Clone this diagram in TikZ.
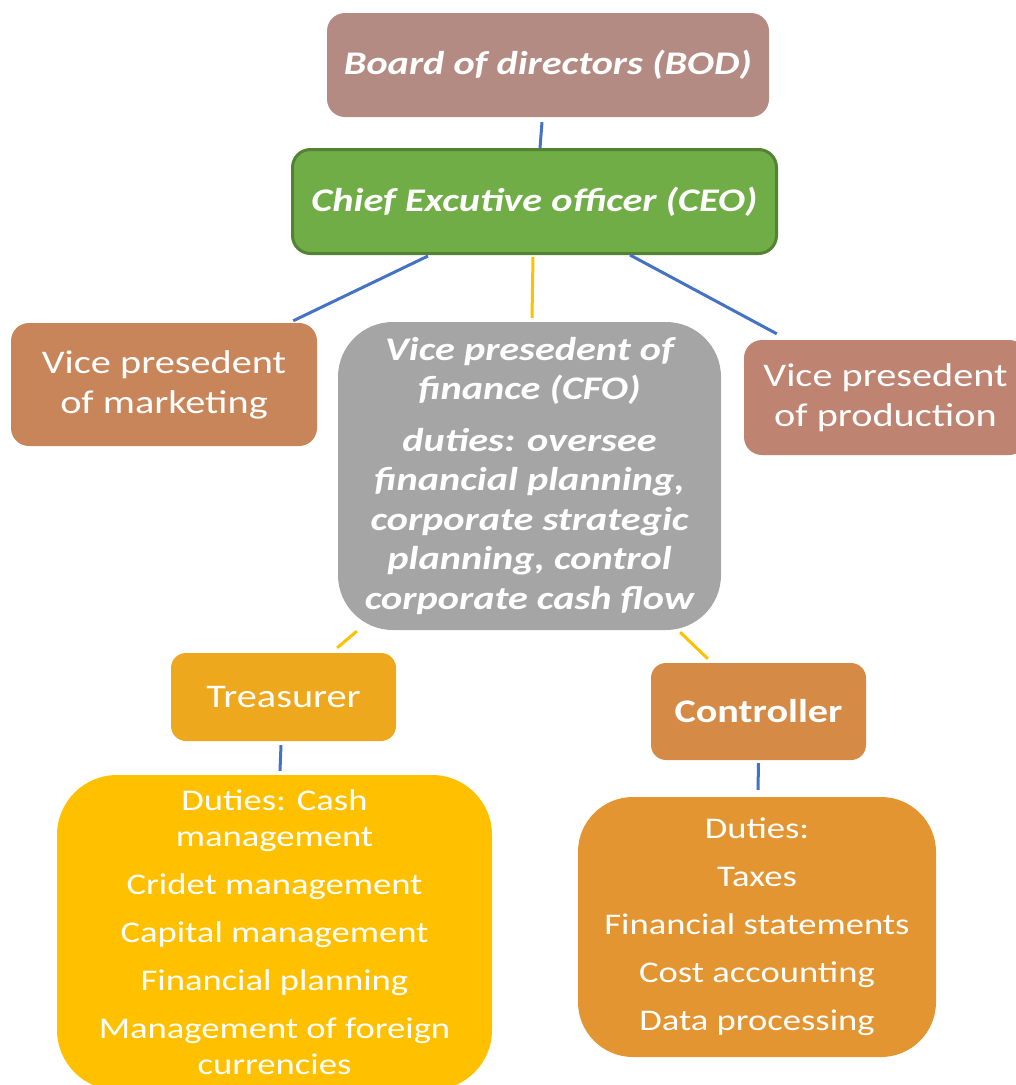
\documentclass[tikz,border=0pt]{standalone}
\usepackage{fontspec}
\setmainfont{Carlito}[FakeStretch=1.22]

\definecolor{bodcol}{HTML}{B48B82}
\definecolor{ceocol}{HTML}{70AD47}
\definecolor{ceoedge}{HTML}{548235}
\definecolor{mktcol}{HTML}{C9855A}
\definecolor{cfocol}{HTML}{A5A5A5}
\definecolor{prodcol}{HTML}{BF8371}
\definecolor{treascol}{HTML}{EDA81D}
\definecolor{ctrlcol}{HTML}{D58A45}
\definecolor{tdutycol}{HTML}{FFC000}
\definecolor{cdutycol}{HTML}{E29531}
\definecolor{linkblue}{HTML}{4472C4}
\definecolor{linkgold}{HTML}{FFC000}

\begin{document}
\begin{tikzpicture}[x=1pt,y=-1pt,
  box/.style={fill=#1,text=white,rounded corners=18pt,inner sep=0pt,align=center},
  big/.style={font=\fontsize{33}{40}\selectfont},
  bigbf/.style={font=\fontsize{33}{40}\selectfont\bfseries},
  bigbi/.style={font=\fontsize{33}{39.5}\selectfont\bfseries\itshape},
  small/.style={font=\fontsize{30}{36}\selectfont},
  link/.style={draw=#1,line width=3pt}]
  \clip (0,0) rectangle (1016,1085);
  % top of the chart
  \node[box=bodcol,minimum width=442pt,minimum height=104pt,bigbi] (bod) at (548,65) {Board of directors (BOD)};
  \node[box=ceocol,draw=ceoedge,line width=3pt,minimum width=484pt,minimum height=104pt,bigbi] (ceo) at (534.5,201.5) {Chief Excutive officer (CEO)};
  % vice presidents
  \node[box=mktcol,minimum width=306pt,minimum height=123pt,big] (mkt) at (164,384.5) {Vice presedent\\of marketing};
  \node[box=cfocol,rounded corners=55pt,minimum width=383pt,minimum height=308pt,bigbi] (cfo) at (529.5,476) {Vice presedent of\\finance (CFO)\\[12pt]duties: oversee\\financial planning,\\corporate strategic\\planning, control\\corporate cash flow};
  \node[box=prodcol,minimum width=283pt,minimum height=115pt,big] (prod) at (885.5,397.5) {Vice presedent\\of production};
  % under the CFO
  \node[box=treascol,rounded corners=15pt,minimum width=225pt,minimum height=88pt,big] (treas) at (283.5,697) {Treasurer};
  \node[box=ctrlcol,rounded corners=15pt,minimum width=215pt,minimum height=97pt,bigbf] (ctrl) at (758.5,711.5) {Controller};
  \node[box=tdutycol,rounded corners=60pt,minimum width=435pt,minimum height=315pt,small] (tduty) at (274.5,932.5) {Duties: Cash\\management\\[12pt]Cridet management\\[12pt]Capital management\\[12pt]Financial planning\\[12pt]Management of foreign\\currencies};
  \node[box=cdutycol,rounded corners=55pt,minimum width=358pt,minimum height=260pt,small] (cduty) at (757,927) {\raisebox{0pt}{}Duties:\\[12pt]Taxes\\[12pt]Financial statements\\[12pt]Cost accounting\\[12pt]Data processing};
  % connectors
  \draw[link=linkblue] ([shift={(-6,5)}]bod.south) -- ([shift={(5.5,0)}]ceo.north);
  \draw[link=linkblue] ([shift={(-106.5,1)}]ceo.south) -- ([shift={(-24,-2)}]mkt.north east);
  \draw[link=linkgold] ([shift={(-1.5,2)}]ceo.south) -- ([shift={(2.5,-4)}]cfo.north);
  \draw[link=linkblue] ([shift={(95.5,0)}]ceo.south) -- ([shift={(33,-6)}]prod.north west);
  \draw[link=linkgold] ([shift={(19,1)}]cfo.south west) -- ([shift={(-59,-5)}]treas.north east);
  \draw[link=linkgold] ([shift={(-41,2)}]cfo.south east) -- ([shift={(57,-4)}]ctrl.north west);
  \draw[link=linkblue] ([shift={(-2.5,4)}]treas.south) -- ([shift={(5.5,-4)}]tduty.north);
  \draw[link=linkblue] ([shift={(0,3)}]ctrl.south) -- ([shift={(1,-7)}]cduty.north);
\end{tikzpicture}
\end{document}
